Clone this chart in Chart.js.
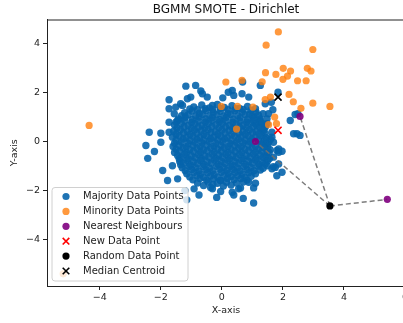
<!DOCTYPE html>
<html>
<head>
<meta charset="utf-8">
<script src="https://cdn.jsdelivr.net/npm/chart.js@4/dist/chart.umd.min.js"></script>
<style>
  html, body { margin: 0; padding: 0; background: #fff; overflow: hidden; }
  #chBgmm { display: block; }
</style>
</head>
<body>
<canvas id="chBgmm" width="420" height="323"></canvas>
<script>
/* BGMM SMOTE scatter (Dirichlet prior) */

var titleText = 'BGMM SMOTE - Dirichlet';
var xTicks = [-4, -2, 0, 2, 4, 6];
var yTicks = [-4, -2, 0, 2, 4];

// majority class, outer points first, then the dense core
var majorityPoints = [
  [-1.73,1.71],[-1.18,2.27],[-0.86,2.30],[-0.69,2.07],[-1.02,1.82],[0.03,1.79],[0.21,2.02],[0.39,1.89],
  [0.68,2.44],[0.88,1.82],[1.42,1.55],[1.84,2.02],[1.67,1.30],[1.10,1.34],[-1.73,1.34],[-1.35,1.55],
  [-1.13,1.75],[-0.64,1.96],[-0.48,1.82],[-1.29,1.48],[-1.51,1.41],[-1.56,1.14],[-1.73,0.79],[-2.38,0.38],
  [-2.00,0.34],[-0.31,1.48],[0.34,2.09],[0.66,1.96],[1.26,2.30],[1.53,1.14],
  [-2.49,-0.16],[-2.21,-0.41],[-2.43,-0.69],[-2.00,-0.03],[-1.94,-1.19],[-1.45,-1.53],[-0.91,-1.94],
  [-1.62,-0.99],[-1.78,-1.60],[-1.73,0.38],[-1.45,0.86],[-1.21,-2.01],[-0.75,-2.19],[-0.31,-1.94],
  [-0.17,-2.29],[-0.04,-1.60],[0.39,-2.19],[0.61,-1.90],[0.70,-2.33],[0.88,-1.67],[1.10,-1.71],
  [1.04,-1.90],[1.04,-2.52],[-1.15,-2.39],[-0.37,-1.88],[-0.04,-2.05],[0.55,-1.94],[0.34,-2.08],
  [1.48,-0.44],[1.86,-0.44],[1.97,-0.40],[1.86,-0.92],[1.97,-1.26],[1.69,-1.03],[2.24,0.86],[2.35,0.32],
  [2.56,0.25],[2.49,1.14],[1.48,0.73],[1.64,0.18],[1.53,-0.03],[1.59,0.08],[1.80,-0.37],[1.69,-0.64],
  [1.75,-1.06],[1.64,-1.12],[1.48,-0.99],[1.80,-1.40],[1.62,1.61],[1.35,1.14],[1.26,0.86],[1.48,0.93],
  [1.10,0.73],[1.42,0.66],[1.37,0.45],[1.64,0.38],[1.69,-0.03],[1.86,-0.30],[2.46,0.32],[2.40,1.11],
  // core
  [-0.92,1.42],[-0.66,1.50],[-0.41,1.38],[-0.15,1.52],[0.08,1.40],[0.33,1.47],[0.58,1.36],[0.84,1.44],
  [-1.05,1.33],[-0.80,1.30],[-0.55,1.35],[-0.30,1.31],[-0.05,1.36],[0.20,1.30],[0.45,1.34],[0.70,1.31],[0.95,1.28],
  [-1.22,1.18],[-0.98,1.25],[-0.74,1.16],[-0.52,1.27],[-0.28,1.19],[-0.05,1.24],[0.19,1.15],[0.42,1.26],
  [0.66,1.21],[0.90,1.13],[1.12,1.20],
  [-1.32,1.06],[-1.10,1.10],[-0.86,1.05],[-0.63,1.11],[-0.40,1.06],[-0.17,1.10],[0.06,1.05],[0.29,1.11],
  [0.52,1.06],[0.76,1.10],[1.00,1.05],[1.20,1.08],
  [-1.42,0.93],[-1.20,0.99],[-0.97,0.90],[-0.75,1.00],[-0.53,0.92],[-0.31,0.98],[-0.08,0.90],[0.14,0.99],
  [0.37,0.91],[0.60,0.97],[0.83,0.90],[1.05,0.98],[1.25,0.92],
  [-1.50,0.80],[-1.22,0.85],[-0.99,0.79],[-0.76,0.84],[-0.54,0.80],[-0.31,0.86],[-0.08,0.81],[0.14,0.85],
  [0.36,0.79],[0.59,0.84],[0.81,0.80],[1.03,0.86],[1.25,0.81],
  [-1.55,0.68],[-1.33,0.74],[-1.10,0.66],[-0.88,0.73],[-0.65,0.67],[-0.43,0.75],[-0.20,0.69],[0.02,0.74],
  [0.25,0.66],[0.47,0.72],[0.70,0.68],[0.92,0.75],[1.14,0.67],[1.33,0.73],
  [-1.47,0.55],[-1.24,0.60],[-1.00,0.54],[-0.78,0.59],[-0.56,0.55],[-0.33,0.61],[-0.10,0.56],[0.12,0.60],
  [0.35,0.54],[0.58,0.59],[0.80,0.55],[1.02,0.61],[1.24,0.56],[1.42,0.58],
  [-1.58,0.42],[-1.36,0.48],[-1.13,0.41],[-0.90,0.47],[-0.68,0.43],[-0.45,0.49],[-0.22,0.41],[0.00,0.47],
  [0.23,0.44],[0.45,0.50],[0.68,0.42],[0.90,0.48],[1.12,0.41],[1.32,0.47],
  [-1.50,0.30],[-1.26,0.35],[-1.04,0.29],[-0.82,0.34],[-0.59,0.30],[-0.36,0.36],[-0.13,0.30],[0.10,0.35],
  [0.32,0.29],[0.55,0.34],[0.77,0.30],[1.00,0.36],[1.22,0.31],[1.42,0.33],
  [-1.62,0.18],[-1.40,0.23],[-1.17,0.16],[-0.95,0.22],[-0.72,0.17],[-0.50,0.24],[-0.27,0.18],[-0.04,0.22],
  [0.18,0.16],[0.41,0.23],[0.63,0.19],[0.86,0.24],[1.08,0.17],[1.30,0.22],[1.45,0.16],
  [-1.50,0.05],[-1.27,0.10],[-1.05,0.04],[-0.82,0.09],[-0.60,0.05],[-0.37,0.11],[-0.14,0.06],[0.09,0.10],
  [0.31,0.04],[0.54,0.09],[0.76,0.05],[0.98,0.10],[1.20,0.05],[1.40,0.08],
  [-1.55,-0.07],[-1.33,-0.02],[-1.10,-0.08],[-0.88,-0.03],[-0.65,-0.06],[-0.42,0.00],[-0.20,-0.07],[0.03,-0.02],
  [0.26,-0.08],[0.48,-0.03],[0.70,-0.06],[0.92,-0.01],[1.32,-0.08],[1.45,-0.10],
  [-1.60,-0.20],[-1.40,-0.15],[-1.17,-0.21],[-0.94,-0.16],[-0.71,-0.20],[-0.49,-0.14],[-0.26,-0.19],[-0.03,-0.15],
  [0.20,-0.21],[0.42,-0.16],[0.64,-0.20],[0.87,-0.14],[1.10,-0.19],[1.30,-0.15],[1.50,-0.20],
  [-1.50,-0.32],[-1.27,-0.27],[-1.05,-0.33],[-0.82,-0.28],[-0.60,-0.34],[-0.37,-0.26],[-0.14,-0.31],[0.08,-0.27],
  [0.31,-0.33],[0.54,-0.28],[0.76,-0.32],[0.99,-0.26],[1.20,-0.31],[1.40,-0.27],[1.58,-0.33],
  [-1.55,-0.45],[-1.38,-0.40],[-1.16,-0.46],[-0.93,-0.41],[-0.70,-0.45],[-0.48,-0.39],[-0.25,-0.44],[-0.02,-0.40],
  [0.20,-0.46],[0.43,-0.41],[0.65,-0.45],[0.88,-0.39],[1.10,-0.44],[1.32,-0.40],[1.55,-0.45],
  [-1.45,-0.57],[-1.22,-0.52],[-1.00,-0.58],[-0.77,-0.53],[-0.55,-0.59],[-0.32,-0.51],[-0.10,-0.56],[0.13,-0.52],
  [0.36,-0.58],[0.58,-0.53],[0.80,-0.57],[1.03,-0.51],[1.25,-0.56],[1.45,-0.60],
  [-1.40,-0.70],[-1.33,-0.65],[-1.10,-0.71],[-0.88,-0.66],[-0.66,-0.70],[-0.43,-0.64],[-0.20,-0.69],[0.02,-0.65],
  [0.25,-0.71],[0.47,-0.66],[0.70,-0.70],[0.92,-0.64],[1.14,-0.69],[1.36,-0.65],[1.56,-0.70],
  [-1.38,-0.82],[-1.15,-0.77],[-0.93,-0.83],[-0.70,-0.78],[-0.48,-0.84],[-0.25,-0.76],[-0.02,-0.81],[0.20,-0.77],
  [0.43,-0.83],[0.65,-0.78],[0.88,-0.82],[1.10,-0.76],[1.32,-0.84],[1.50,-0.79],
  [-1.35,-0.95],[-1.25,-0.90],[-1.03,-0.96],[-0.80,-0.91],[-0.58,-0.95],[-0.35,-0.89],[-0.12,-0.94],[0.10,-0.90],
  [0.33,-0.96],[0.55,-0.91],[0.78,-0.95],[1.00,-0.89],[1.22,-0.94],[1.42,-0.92],
  [-1.30,-1.07],[-1.07,-1.02],[-0.85,-1.08],[-0.62,-1.03],[-0.40,-1.09],[-0.17,-1.01],[0.06,-1.06],[0.28,-1.02],
  [0.51,-1.08],[0.73,-1.03],[0.96,-1.07],[1.18,-1.01],[1.35,-1.10],
  [-1.20,-1.20],[-0.98,-1.15],[-0.75,-1.21],[-0.52,-1.16],[-0.30,-1.20],[-0.07,-1.14],[0.16,-1.19],[0.38,-1.15],
  [0.60,-1.21],[0.83,-1.16],[1.05,-1.20],[1.26,-1.17],
  [-1.15,-1.32],[-0.92,-1.27],[-0.70,-1.33],[-0.47,-1.28],[-0.25,-1.34],[-0.02,-1.26],[0.21,-1.31],[0.43,-1.27],
  [0.66,-1.33],[0.88,-1.28],[1.10,-1.32],
  [-1.05,-1.45],[-0.82,-1.40],[-0.60,-1.46],[-0.37,-1.41],[-0.14,-1.45],[0.08,-1.39],[0.30,-1.44],[0.52,-1.40],
  [0.75,-1.46],[0.96,-1.42],
  [-0.95,-1.57],[-0.72,-1.52],[-0.50,-1.58],[-0.27,-1.53],[-0.05,-1.59],[0.18,-1.51],[0.40,-1.56],[0.62,-1.52],
  [0.82,-1.58],
  [-0.80,-1.70],[-0.45,-1.66],[-0.15,-1.71],[0.15,-1.67],[0.48,-1.70],[0.70,-1.66],
  [-0.60,-1.80],[-0.30,-1.76],[0.05,-1.82],[0.30,-1.78]
];

var minorityPoints = [
  [1.85,4.49],[1.45,3.95],[2.98,3.77],[2.01,3.00],[1.77,2.75],[1.43,2.82],[2.25,2.89],[2.15,2.68],
  [2.80,3.00],[2.92,2.89],[2.00,2.55],[2.48,2.49],[2.76,2.49],[1.32,2.45],[0.66,2.51],[0.13,2.44],
  [2.20,1.93],[1.59,1.82],[1.42,1.72],[2.34,1.63],[2.98,1.57],[3.54,1.44],[2.59,1.36],[1.02,1.41],
  [0.51,1.44],[-0.02,1.44],[1.73,1.00],[1.53,0.69],[1.79,0.73],[0.48,0.51],[-4.35,0.66],[-5.20,-5.42]
];

var neighbourPoints = [[1.10,0.00],[2.56,1.03],[5.42,-2.37]];
var newPoint = [1.84,0.46];
var randomPoint = [3.54,-2.64];
var medianCentroid = [1.84,1.82];

var legendLabels = ['Majority Data Points', 'Minority Data Points', 'Nearest Neighbours',
                    'New Data Point', 'Random Data Point', 'Median Centroid'];

var fontFamily = '"DejaVu Sans", sans-serif';

function toXY(list) {
  return list.map(function (p) { return {x: p[0], y: p[1]}; });
}

// matplotlib style minus sign on tick labels
function tickLabel(v) {
  return v < 0 ? '\u2212' + Math.abs(v) : String(v);
}

var datasets = [
  {label: legendLabels[0], data: toXY(majorityPoints), backgroundColor: 'rgba(6,100,172,0.9)',
   pointRadius: 3.7, borderWidth: 0, order: 10},
  {label: legendLabels[1], data: toXY(minorityPoints), backgroundColor: 'rgba(255,127,14,0.8)',
   pointRadius: 3.6, borderWidth: 0, order: 9},
  {label: legendLabels[2], data: toXY(neighbourPoints), backgroundColor: 'rgba(128,0,128,0.9)',
   pointRadius: 3.6, borderWidth: 0, order: 5},
  {label: legendLabels[3], data: toXY([newPoint]), pointStyle: 'crossRot', borderColor: 'red',
   pointRadius: 5, borderWidth: 1.6, order: 4},
  {label: legendLabels[4], data: toXY([randomPoint]), backgroundColor: '#000',
   pointRadius: 3.6, borderWidth: 0, order: 3},
  {label: legendLabels[5], data: toXY([medianCentroid]), pointStyle: 'crossRot', borderColor: '#000',
   pointRadius: 5, borderWidth: 1.6, order: 2}
];

// dashed links from the random point to each neighbour
neighbourPoints.forEach(function (n) {
  datasets.push({
    data: toXY([randomPoint, n]),
    showLine: true,
    borderColor: 'rgba(110,110,110,0.9)',
    borderWidth: 1.5,
    borderDash: [5, 3],
    pointRadius: 0,
    order: 6
  });
});

// legend box inside the axes plus the top spine
var boxLegend = {
  id: 'boxLegend',
  afterDatasetsDraw: function (chart) {
    var ctx = chart.ctx;
    var area = chart.chartArea;
    ctx.save();
    ctx.strokeStyle = '#222';
    ctx.lineWidth = 1;
    ctx.beginPath();
    ctx.moveTo(area.left, area.top + 0.5);
    ctx.lineTo(area.right, area.top + 0.5);
    ctx.stroke();

    var bx = 52, by = 187.5, bw = 136, bh = 93.5;
    ctx.beginPath();
    ctx.roundRect(bx, by, bw, bh, 3);
    ctx.fillStyle = 'rgba(255,255,255,0.8)';
    ctx.fill();
    ctx.strokeStyle = '#d0d0d0';
    ctx.stroke();

    ctx.font = '10px ' + fontFamily;
    ctx.textBaseline = 'middle';
    ctx.textAlign = 'left';
    var ds = chart.data.datasets;
    var row = 0;
    ds.forEach(function (d) {
      if (!d.label) return;
      var y = 196.5 + row * 14.9;
      var mx = 66;
      if (d.pointStyle === 'crossRot') {
        ctx.strokeStyle = d.borderColor;
        ctx.lineWidth = 1.6;
        ctx.beginPath();
        ctx.moveTo(mx - 3.3, y - 3.3); ctx.lineTo(mx + 3.3, y + 3.3);
        ctx.moveTo(mx + 3.3, y - 3.3); ctx.lineTo(mx - 3.3, y + 3.3);
        ctx.stroke();
      } else {
        ctx.fillStyle = d.backgroundColor;
        ctx.beginPath();
        ctx.arc(mx, y, 3.6, 0, Math.PI * 2);
        ctx.fill();
      }
      ctx.fillStyle = '#222';
      ctx.fillText(d.label, 83, y);
      row++;
    });
    ctx.restore();
  }
};

var chBgmm = document.getElementById('chBgmm');
if (chBgmm) {
  new Chart(chBgmm, {
    type: 'scatter',
    data: {datasets: datasets},
    plugins: [boxLegend],
    options: {
      responsive: false,
      animation: false,
      layout: {padding: {left: 0, right: 15, top: 0, bottom: 0}},
      plugins: {
        legend: {display: false},
        tooltip: {enabled: false},
        title: {
          display: true,
          text: titleText,
          fullSize: false,
          color: '#111',
          font: {family: fontFamily, size: 12, weight: 'normal'},
          padding: {top: 2.5, bottom: 2.6}
        }
      },
      scales: {
        x: {
          type: 'linear',
          min: -5.73,
          max: 6.0,
          afterFit: function (s) { s.height = 37; },
          afterBuildTicks: function (s) { s.ticks = xTicks.map(function (v) { return {value: v}; }); },
          grid: {drawOnChartArea: false, drawTicks: true, tickLength: 4, color: '#222'},
          border: {display: true, color: '#222', width: 1},
          ticks: {
            color: '#222', padding: 2, maxRotation: 0,
            font: {family: fontFamily, size: 9.5},
            callback: tickLabel
          },
          title: {
            display: true, text: 'X-axis', color: '#222',
            font: {family: fontFamily, size: 9.5},
            padding: {top: 0, bottom: 6.3}
          }
        },
        y: {
          type: 'linear',
          min: -5.92,
          max: 5.0,
          afterFit: function (s) { s.width = 47; },
          afterBuildTicks: function (s) { s.ticks = yTicks.map(function (v) { return {value: v}; }); },
          grid: {drawOnChartArea: false, drawTicks: true, tickLength: 4, color: '#222'},
          border: {display: true, color: '#222', width: 1},
          ticks: {
            color: '#222', padding: 3,
            font: {family: fontFamily, size: 9.5},
            callback: tickLabel
          },
          title: {
            display: true, text: 'Y-axis', color: '#222',
            font: {family: fontFamily, size: 9.5},
            padding: {top: 9.3, bottom: 0}
          }
        }
      }
    }
  });
}
</script>
</body>
</html>
